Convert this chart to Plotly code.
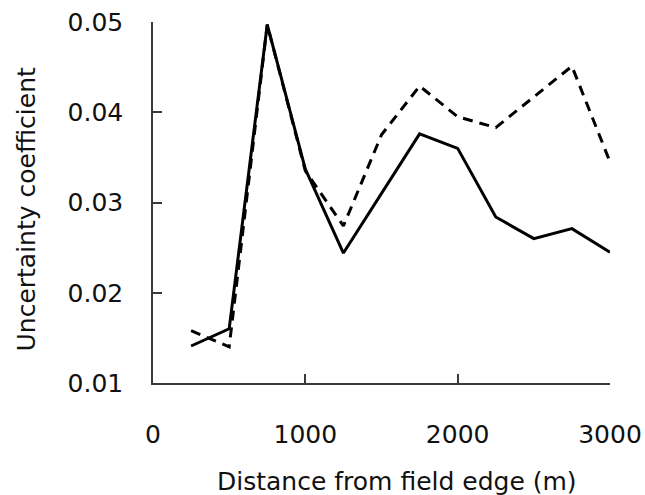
"""Uncertainty coefficient vs distance from field edge."""

import plotly.graph_objects as go

distance_m = [250, 500, 750, 1000, 1250, 1500, 1750, 2000, 2250, 2500, 2750, 3000]
solid_values = [0.0141, 0.0160, 0.0497, 0.0337, 0.0244, 0.0310, 0.0376, 0.0360,
                0.0284, 0.0260, 0.0271, 0.0245]
dashed_values = [0.0158, 0.0140, 0.0497, 0.0335, 0.0274, 0.0375, 0.0429, 0.0395,
                 0.0383, 0.0417, 0.0451, 0.0345]

x_ticks = [0, 1000, 2000, 3000]
y_ticks = [0.01, 0.02, 0.03, 0.04, 0.05]

FONT = "DejaVu Sans, Arial, sans-serif"
TEXT_COLOR = "#111111"
AXIS_COLOR = "#3a3a3a"

fig = go.Figure()
fig.add_trace(
    go.Scatter(
        x=distance_m,
        y=dashed_values,
        mode="lines",
        line={"color": "black", "width": 3, "dash": "10px,7px"},
        showlegend=False,
    )
)
fig.add_trace(
    go.Scatter(
        x=distance_m,
        y=solid_values,
        mode="lines",
        line={"color": "black", "width": 3},
        showlegend=False,
    )
)

axis_common = {
    "showline": True,
    "linecolor": AXIS_COLOR,
    "linewidth": 1.5,
    "showgrid": False,
    "zeroline": False,
    "automargin": False,
    "ticks": "inside",
    "ticklen": 9,
    "tickwidth": 1.5,
    "tickcolor": AXIS_COLOR,
    "tickfont": {"family": FONT, "size": 25, "color": TEXT_COLOR},
}

fig.update_layout(
    width=645,
    height=495,
    plot_bgcolor="white",
    paper_bgcolor="white",
    margin={"l": 153, "r": 35, "t": 22, "b": 112},
    font={"family": FONT, "color": TEXT_COLOR},
    xaxis={
        **axis_common,
        "range": [0, 3000],
        "tickvals": x_ticks,
        "ticktext": [str(v) for v in x_ticks],
        "ticklabelstandoff": 28,
    },
    yaxis={
        **axis_common,
        "range": [0.01, 0.05],
        "tickvals": y_ticks,
        "ticktext": [f"{v:.2f}" for v in y_ticks],
        "ticklabelstandoff": 23,
    },
    annotations=[
        {
            "text": "Distance from field edge (m)",
            "xref": "paper",
            "yref": "paper",
            "x": 0.5,
            "y": 0,
            "xanchor": "center",
            "yanchor": "middle",
            "xshift": 15,
            "yshift": -98,
            "showarrow": False,
            "font": {"family": FONT, "size": 25, "color": TEXT_COLOR},
        },
        {
            "text": "Uncertainty coefficient",
            "xref": "paper",
            "yref": "paper",
            "x": 0,
            "y": 0.5,
            "xanchor": "center",
            "yanchor": "middle",
            "xshift": -127,
            "yshift": -7,
            "textangle": -90,
            "showarrow": False,
            "font": {"family": FONT, "size": 25, "color": TEXT_COLOR},
        },
    ],
)

# drop the default 8px body margin so the 645x495 figure fills the window
fig.write_html(
    "out.html",
    config={"displayModeBar": False},
    post_script="document.body.style.margin = '0';",
)
